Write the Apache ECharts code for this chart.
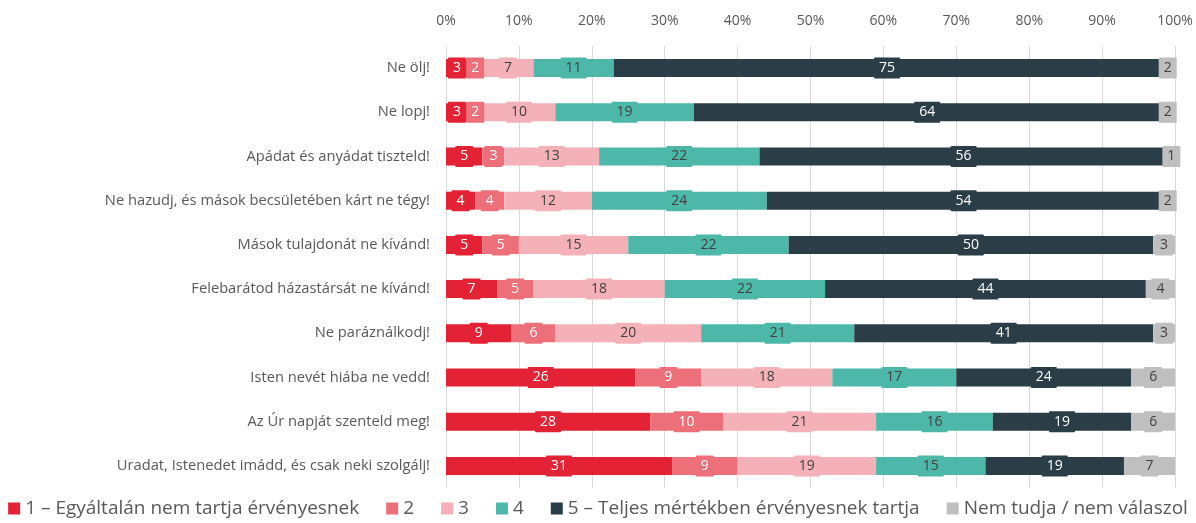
<!DOCTYPE html>
<html>
<head>
<meta charset="utf-8">
<script src="https://cdn.jsdelivr.net/npm/echarts@6/dist/echarts.min.js"></script>
<style>
  html, body { margin: 0; padding: 0; background: #fff; }
  #main { width: 1196px; height: 523px; }
</style>
</head>
<body>
<div id="main"></div>
<script>
const categories = [
  'Ne ölj!',
  'Ne lopj!',
  'Apádat és anyádat tiszteld!',
  'Ne hazudj, és mások becsületében kárt ne tégy!',
  'Mások tulajdonát ne kívánd!',
  'Felebarátod házastársát ne kívánd!',
  'Ne paráználkodj!',
  'Isten nevét hiába ne vedd!',
  'Az Úr napját szenteld meg!',
  'Uradat, Istenedet imádd, és csak neki szolgálj!'
];

const seriesNames = [
  '1 – Egyáltalán nem tartja érvényesnek',
  '2',
  '3',
  '4',
  '5 – Teljes mértékben érvényesnek tartja',
  'Nem tudja / nem válaszol'
];

const s1 = [3, 3, 5, 4, 5, 7, 9, 26, 28, 31];
const s2 = [2, 2, 3, 4, 5, 5, 6, 9, 10, 9];
const s3 = [7, 10, 13, 12, 15, 18, 20, 18, 21, 19];
const s4 = [11, 19, 22, 24, 22, 22, 21, 17, 16, 15];
const s5 = [75, 64, 56, 54, 50, 44, 41, 24, 19, 19];
const s6 = [2, 2, 1, 2, 3, 4, 3, 6, 6, 7];

const colors = ['#E32236', '#EC6F7A', '#F5B1B8', '#4DB8A9', '#2B3D47', '#BFBFBF'];
const textColors = ['#ffffff', '#ffffff', '#404040', '#404040', '#ffffff', '#404040'];
const allData = [s1, s2, s3, s4, s5, s6];

const chart = echarts.init(document.getElementById('main'));

const series = allData.map((d, i) => ({
  name: seriesNames[i],
  type: 'bar',
  stack: 'total',
  barWidth: 18,
  data: d,
  itemStyle: { color: colors[i] },
  label: {
    show: true,
    position: 'inside',
    color: textColors[i],
    fontFamily: 'Open Sans',
    fontSize: 14,
    backgroundColor: colors[i],
    padding: [4, 5, 3, 5],
    borderRadius: 1
  }
}));

const option = {
  animation: false,
  textStyle: { fontFamily: 'Open Sans' },
  grid: { left: 446, right: 21, top: 46, bottom: 35, containLabel: false },
  xAxis: {
    type: 'value',
    position: 'top',
    min: 0,
    max: 100,
    interval: 10,
    axisLine: { show: false },
    axisTick: { show: false },
    axisLabel: { formatter: '{value}%', color: '#595959', fontSize: 14, margin: 18 },
    splitLine: { lineStyle: { color: '#D9D9D9', width: 1 } }
  },
  yAxis: {
    type: 'category',
    inverse: true,
    data: categories,
    axisLine: { show: false },
    axisTick: { show: false },
    axisLabel: { color: '#595959', fontSize: 14.7, margin: 16 }
  },
  legend: {
    bottom: 0,
    left: 'center',
    itemWidth: 12,
    itemHeight: 12,
    itemGap: 27,
    icon: 'rect',
    textStyle: { color: '#595959', fontSize: 19 },
    data: seriesNames
  },
  series: series
};

chart.setOption(option);
</script>
</body>
</html>
